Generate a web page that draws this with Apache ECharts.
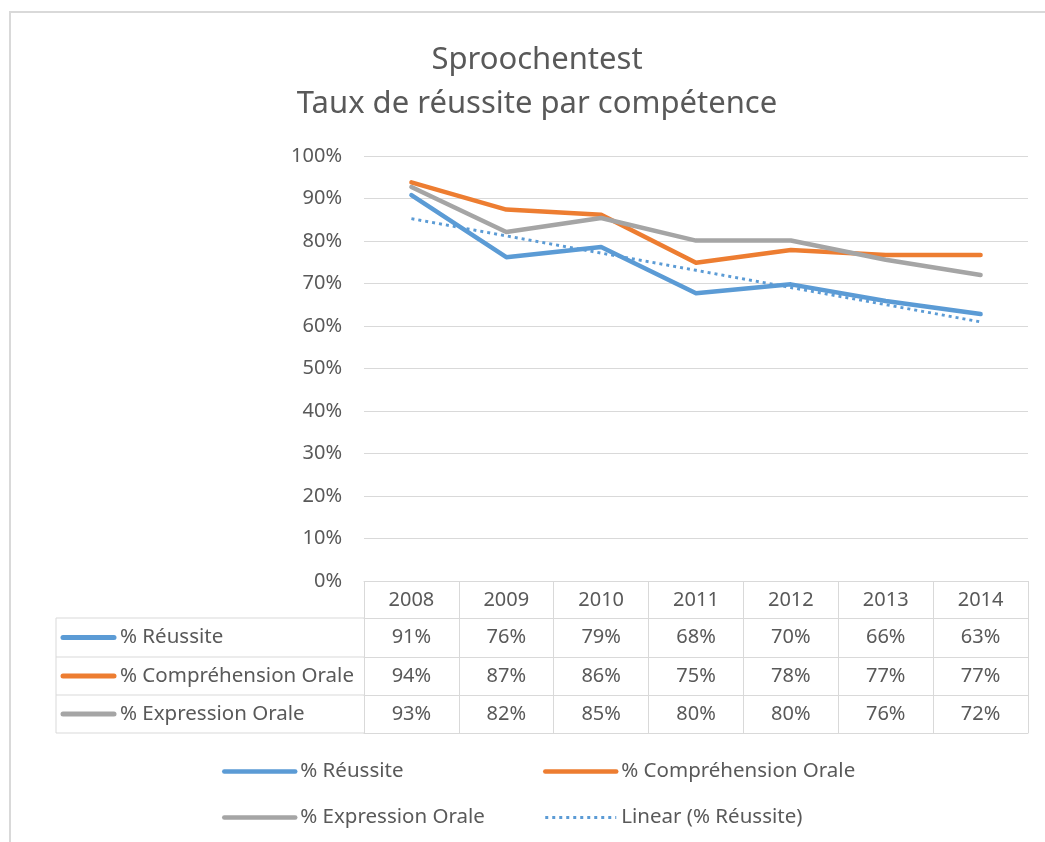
<!DOCTYPE html>
<html>
<head>
<meta charset="utf-8">
<title>Sproochentest</title>
<script src="https://cdn.jsdelivr.net/npm/echarts@6/dist/echarts.min.js"></script>
<style>
  html, body { margin: 0; padding: 0; background: #fff; }
  #chart { width: 1045px; height: 842px; }
</style>
</head>
<body>
<div id="chart"></div>
<script>
var years = ['2008', '2009', '2010', '2011', '2012', '2013', '2014'];
var reussite = [90.8, 76.2, 78.6, 67.7, 69.8, 65.9, 62.8];
var comprehension = [93.8, 87.4, 86.2, 74.9, 77.9, 76.7, 76.7];
var expression = [92.7, 82.1, 85.4, 80.1, 80.1, 75.6, 72.0];
var seriesNames = ['% Réussite', '% Compréhension Orale', '% Expression Orale'];
var trendName = 'Linear (% Réussite)';
var colors = ['#5B9BD5', '#ED7D31', '#A5A5A5'];

var textColor = '#595959';
var lineGray = '#d9d9d9';
var font = 'Noto Sans';

// least squares trend line over the réussite values (like Excel's linear trendline)
function linearFit (values) {
  var n = values.length
  var mx = (n - 1) / 2
  var my = values.reduce(function (a, b) { return a + b }, 0) / n
  var num = 0
  var den = 0
  values.forEach(function (v, i) {
    num += (i - mx) * (v - my)
    den += (i - mx) * (i - mx)
  })
  var slope = num / den
  return values.map(function (v, i) { return my + slope * (i - mx) })
}
var trend = linearFit(reussite)

function pct (v) { return Math.round(v) + '%' }

// table rows under the plot are extra category axes
var rowData = [reussite, comprehension, expression]
var rowTop = [618, 657, 695, 733]
var gridBottom = 581

function tableAxis (data, offset, tickLen, showLabel) {
  return {
    type: 'category',
    position: 'bottom',
    offset: offset,
    data: data,
    axisLine: { show: true, lineStyle: { color: lineGray, width: 1 } },
    axisTick: { show: tickLen > 0, length: tickLen, lineStyle: { color: lineGray, width: 1 } },
    axisLabel: {
      show: showLabel,
      interval: 0,
      margin: 9,
      color: textColor,
      fontFamily: font,
      fontSize: 20,
      lineHeight: 20
    },
    splitLine: { show: false }
  }
}

var xAxes = [tableAxis(years, 0, rowTop[0] - gridBottom, true)]
rowData.forEach(function (vals, i) {
  xAxes.push(tableAxis(vals.map(pct), rowTop[i] - gridBottom, rowTop[i + 1] - rowTop[i], true))
})
xAxes.push(tableAxis(years, rowTop[3] - gridBottom, 0, false))

// left part of the table: row labels with their line keys
var graphics = [
  { type: 'rect', shape: { x: 10, y: 12, width: 1100, height: 900 }, style: { fill: null, stroke: lineGray, lineWidth: 2 }, silent: true },
  { type: 'line', shape: { x1: 56, y1: rowTop[0], x2: 56, y2: rowTop[3] }, style: { stroke: lineGray, lineWidth: 1 } }
]
rowTop.forEach(function (y) {
  graphics.push({ type: 'line', shape: { x1: 56, y1: y, x2: 364, y2: y }, style: { stroke: lineGray, lineWidth: 1 } })
})
seriesNames.forEach(function (name, i) {
  var mid = (rowTop[i] + rowTop[i + 1]) / 2
  graphics.push({ type: 'line', shape: { x1: 63, y1: mid, x2: 114, y2: mid }, style: { stroke: colors[i], lineWidth: 5, lineCap: 'round' } })
  graphics.push({
    type: 'text', x: 120, y: mid,
    style: { text: name, fill: textColor, font: '20.5px "Noto Sans"', textAlign: 'left', textVerticalAlign: 'middle' }
  })
})

var lineSeries = [reussite, comprehension, expression].map(function (vals, i) {
  return {
    name: seriesNames[i],
    type: 'line',
    data: vals,
    symbol: 'none',
    color: colors[i],
    lineStyle: { width: 4.5, color: colors[i], join: 'round', cap: 'round' }
  }
})
lineSeries.push({
  name: trendName,
  type: 'line',
  data: trend,
  symbol: 'none',
  color: colors[0],
  lineStyle: { width: 3, color: colors[0], type: [3, 4], cap: 'butt' }
})

var legendBase = {
  orient: 'vertical',
  top: 761,
  padding: 0,
  itemWidth: 71,
  itemHeight: 14,
  itemGap: 25,
  itemStyle: { opacity: 0 },
  lineStyle: { width: 'inherit' },
  textStyle: { color: textColor, fontFamily: font, fontSize: 20.5, lineHeight: 20 }
}

var myChart = echarts.init(document.getElementById('chart'))
var option = {
  animation: false,
  backgroundColor: '#fff',
  title: {
    text: 'Sproochentest\nTaux de réussite par compétence',
    left: 532,
    top: 33,
    textAlign: 'center',
    textStyle: { color: textColor, fontFamily: font, fontSize: 31, fontWeight: 'normal', lineHeight: 44 }
  },
  legend: [
    Object.assign({}, legendBase, { data: [seriesNames[0], seriesNames[2]], left: 222 }),
    Object.assign({}, legendBase, { data: [seriesNames[1], trendName], left: 543 })
  ],
  grid: {
    left: 364,
    right: 17,
    top: 156,
    bottom: 842 - gridBottom,
    containLabel: false
  },
  xAxis: xAxes,
  yAxis: {
    type: 'value',
    min: 0,
    max: 100,
    interval: 10,
    axisLine: { show: false },
    axisTick: { show: false },
    axisLabel: { formatter: '{value}%', margin: 22, color: textColor, fontFamily: font, fontSize: 20 },
    splitLine: { lineStyle: { color: lineGray, width: 1 } }
  },
  graphic: graphics,
  series: lineSeries
}
myChart.setOption(option)
</script>
</body>
</html>
